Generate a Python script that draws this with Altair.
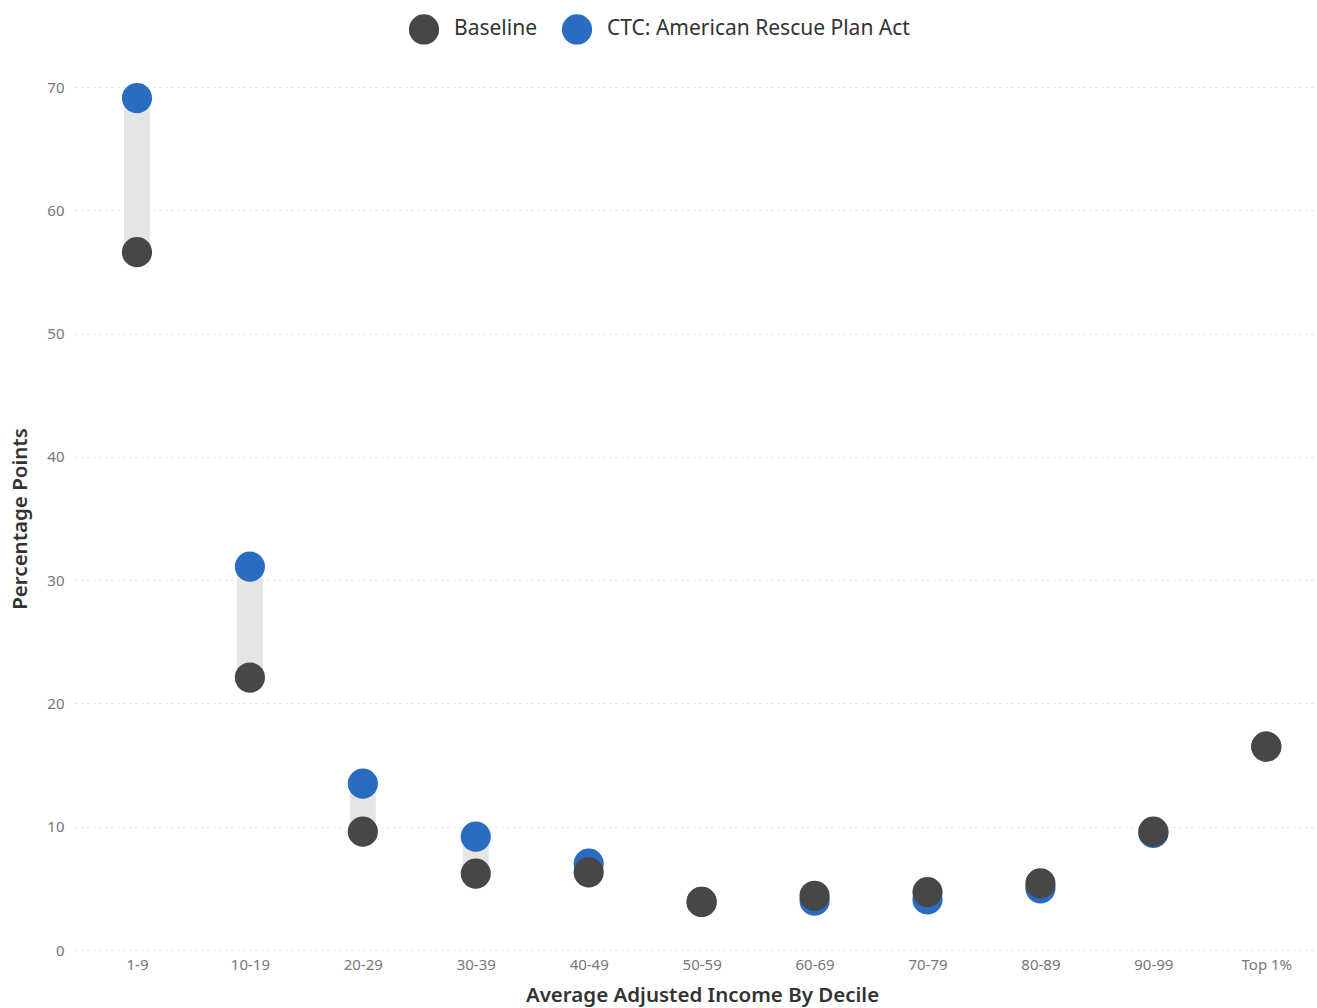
import altair as alt
import pandas as pd

deciles = ["1-9", "10-19", "20-29", "30-39", "40-49", "50-59",
           "60-69", "70-79", "80-89", "90-99", "Top 1%"]
baseline = [56.6, 22.1, 9.6, 6.2, 6.3, 3.9, 4.4, 4.7, 5.4, 9.6, 16.5]
ctc_arpa = [69.1, 31.1, 13.5, 9.2, 7.0, 3.9, 4.0, 4.1, 5.0, 9.5, 16.5]

series_names = ["Baseline", "CTC: American Rescue Plan Act"]
series_colors = ["#474747", "#2a6cc2"]

FONT = "Noto Sans"

wide = pd.DataFrame({"decile": deciles, "baseline": baseline, "ctc": ctc_arpa})

# long form: CTC rows first so the baseline dots sit on top
long_rows = []
for d, c in zip(deciles, ctc_arpa):
    long_rows.append({"decile": d, "series": series_names[1], "value": c, "rank": 0})
for d, b in zip(deciles, baseline):
    long_rows.append({"decile": d, "series": series_names[0], "value": b, "rank": 1})
long = pd.DataFrame(long_rows)

x_enc = alt.X(
    "decile:O",
    sort=deciles,
    scale=alt.Scale(type="point", padding=0.49, align=0.56),
    axis=alt.Axis(
        title="Average Adjusted Income By Decile",
        labelAngle=0,
        labelFont=FONT,
        labelFontSize=15,
        labelColor="#777777",
        labelPadding=7,
        titleFont=FONT,
        titleFontSize=20.5,
        titleFontWeight=600,
        titleColor="#333333",
        titlePadding=13,
        titleX=627,
        titleAnchor="middle",
        domain=False,
        ticks=False,
        grid=False,
    ),
)

y_scale = alt.Scale(domain=[0, 70], nice=False)
y_axis = alt.Axis(
    title="Percentage Points",
    values=[0, 10, 20, 30, 40, 50, 60, 70],
    labelFont=FONT,
    labelFontSize=15,
    labelColor="#777777",
    labelPadding=11,
    titleFont=FONT,
    titleFontSize=20.5,
    titleFontWeight=600,
    titleColor="#333333",
    titlePadding=16,
    domain=False,
    ticks=False,
    grid=True,
    gridColor="#dddddd",
    gridDash=[2, 4],
    gridWidth=1,
)

bars = alt.Chart(wide).mark_bar(color="#e5e5e5", size=26).encode(
    x=x_enc,
    y=alt.Y("baseline:Q", scale=y_scale, axis=y_axis),
    y2="ctc:Q",
)

dots = alt.Chart(long).mark_circle(size=910, opacity=1).encode(
    x=alt.X("decile:O", sort=deciles),
    y=alt.Y("value:Q"),
    order=alt.Order("rank:Q"),
    color=alt.Color(
        "series:N",
        scale=alt.Scale(domain=series_names, range=series_colors),
        legend=alt.Legend(
            title=None,
            orient="none",
            legendX=333,
            legendY=-74,
            direction="horizontal",
            symbolType="circle",
            symbolSize=910,
            symbolOpacity=1,
            labelFont=FONT,
            labelFontSize=21,
            labelColor="#333333",
            labelOffset=14,
            labelLimit=400,
            columnPadding=24,
        ),
    ),
)

chart = (
    alt.layer(bars, dots)
    .properties(
        width=1240,
        height=863,
        padding={"left": 75, "top": 87, "right": 2, "bottom": 58},
        autosize=alt.AutoSizeParams(type="none"),
        background="white",
    )
    .configure_view(stroke=None)
)

chart.save("out.html", embed_options={"renderer": "svg", "actions": False})
